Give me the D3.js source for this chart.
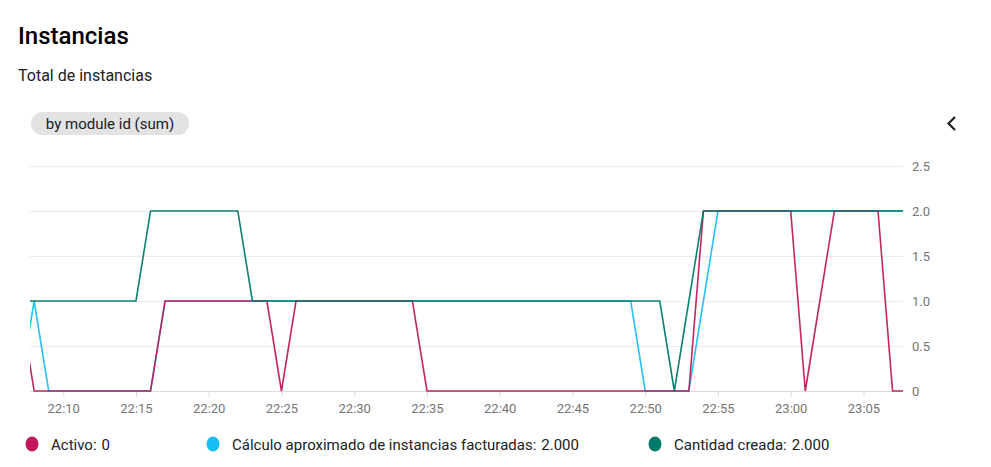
<!DOCTYPE html>
<html>
<head>
<meta charset="utf-8">
<script src="https://cdn.jsdelivr.net/npm/d3@7"></script>
<style>
  html, body { margin: 0; padding: 0; background: #fff; }
  svg { display: block; font-family: Roboto, "Noto Sans", sans-serif; }
</style>
</head>
<body>
<svg id="chart" width="991" height="467"></svg>
<script>
// ---- data ----
const minutes = [
  "22:07","22:08","22:09","22:10","22:11","22:12","22:13","22:14","22:15","22:16",
  "22:17","22:18","22:19","22:20","22:21","22:22","22:23","22:24","22:25","22:26",
  "22:27","22:28","22:29","22:30","22:31","22:32","22:33","22:34","22:35","22:36",
  "22:37","22:38","22:39","22:40","22:41","22:42","22:43","22:44","22:45","22:46",
  "22:47","22:48","22:49","22:50","22:51","22:52","22:53","22:54","22:55","22:56",
  "22:57","22:58","22:59","23:00","23:01","23:02","23:03","23:04","23:05","23:06",
  "23:07","23:08"
];
const activo = [
  1,0,0,0,0,0,0,0,0,0,
  1,1,1,1,1,1,1,1,0,1,
  1,1,1,1,1,1,1,1,0,0,
  0,0,0,0,0,0,0,0,0,0,
  0,0,0,0,0,0,0,2,2,2,
  2,2,2,2,0,1,2,2,2,2,
  0,0
];
const facturadas = [
  0,1,0,0,0,0,0,0,0,0,
  1,1,1,1,1,1,1,1,1,1,
  1,1,1,1,1,1,1,1,1,1,
  1,1,1,1,1,1,1,1,1,1,
  1,1,1,0,0,0,0,1,2,2,
  2,2,2,2,2,2,2,2,2,2,
  2,2
];
const creada = [
  1,1,1,1,1,1,1,1,1,2,
  2,2,2,2,2,2,1,1,1,1,
  1,1,1,1,1,1,1,1,1,1,
  1,1,1,1,1,1,1,1,1,1,
  1,1,1,1,1,0,1,2,2,2,
  2,2,2,2,2,2,2,2,2,2,
  2,2
];
const seriesNames = ["Activo", "Cálculo aproximado de instancias facturadas", "Cantidad creada"];
const legendValues = ["0", "2.000", "2.000"];
const yTicks = [0, 0.5, 1.0, 1.5, 2.0, 2.5];
const domainStart = "22:07:43";
const domainEnd = "23:07:43";

// ---- layout ----
const svg = d3.select("#chart");
const parseM = d3.timeParse("%H:%M");
const parseS = d3.timeParse("%H:%M:%S");
const pLeft = 30, pRight = 903, pTop = 166, pBottom = 391;

const x = d3.scaleTime().domain([parseS(domainStart), parseS(domainEnd)]).range([pLeft, pRight]);
const y = d3.scaleLinear().domain([0, 2.5]).range([pBottom, pTop]);

// Title
svg.append("text").attr("x", 18).attr("y", 44)
  .attr("font-size", 24).attr("font-weight", 500).attr("fill", "#000").text("Instancias");
svg.append("text").attr("x", 18).attr("y", 81)
  .attr("font-size", 16).attr("fill", "#202124").text("Total de instancias");

// Pill
svg.append("rect").attr("x", 31).attr("y", 112).attr("width", 158).attr("height", 23)
  .attr("rx", 11.5).attr("fill", "#e3e3e3");
svg.append("text").attr("x", 110).attr("y", 129).attr("text-anchor", "middle")
  .attr("font-size", 15).attr("fill", "#202124").text("by module id (sum)");

// Chevron
svg.append("path").attr("d", "M955,117 L948.5,123.5 L955,130")
  .attr("fill", "none").attr("stroke", "#202124").attr("stroke-width", 2.2);

// Gridlines
svg.append("g").selectAll("line").data(yTicks).join("line")
  .attr("x1", pLeft).attr("x2", pRight)
  .attr("y1", d => y(d) + 0.5).attr("y2", d => y(d) + 0.5)
  .attr("stroke", d => d === 0 ? "#dcdcdc" : "#ebebeb").attr("stroke-width", 1);

// Y labels (right)
svg.append("g").selectAll("text").data(yTicks).join("text")
  .attr("x", 912).attr("y", d => y(d) + 4.5)
  .attr("font-size", 13).attr("fill", "#757575")
  .text(d => d === 0 ? "0" : d3.format(".1f")(d));

// X axis
const xAxis = d3.axisBottom(x).ticks(d3.timeMinute.every(5)).tickFormat(d3.timeFormat("%H:%M"))
  .tickSize(6).tickSizeOuter(0);
const gx = svg.append("g").attr("transform", `translate(0,${pBottom})`).call(xAxis);
gx.select(".domain").remove();
gx.selectAll(".tick line").attr("stroke", "#dcdcdc");
gx.selectAll(".tick text").attr("fill", "#757575").attr("font-size", 13)
  .attr("font-family", "Roboto, sans-serif").attr("dy", "1.0em");

// Lines
svg.append("clipPath").attr("id", "clip").append("rect")
  .attr("x", pLeft).attr("y", pTop - 5).attr("width", pRight - pLeft).attr("height", pBottom - pTop + 8);

const times = minutes.map(parseM);
const line = d3.line().x((d, i) => x(times[i])).y(d => y(d));
const colors = ["#c2185b", "#18bff5", "#00796b"];
const g = svg.append("g").attr("clip-path", "url(#clip)");
[[facturadas, colors[1]], [activo, colors[0]], [creada, colors[2]]].forEach(([vals, c]) => {
  g.append("path").datum(vals).attr("d", line)
    .attr("fill", "none").attr("stroke", c).attr("stroke-width", 1.6)
    .attr("stroke-linejoin", "miter").attr("stroke-opacity", 0.95);
});

// Legend
const legX = [32, 213, 655];
seriesNames.forEach((name, i) => {
  svg.append("ellipse").attr("cx", legX[i]).attr("cy", 444).attr("rx", 6.5).attr("ry", 7.5)
    .attr("fill", colors[i]);
  const t = svg.append("text").attr("x", legX[i] + 19).attr("y", 449.5)
    .attr("font-size", 15).attr("fill", "#202124");
  t.append("tspan").text(name + ":");
  t.append("tspan").attr("dx", 5).text(legendValues[i]);
});
</script>
</body>
</html>
